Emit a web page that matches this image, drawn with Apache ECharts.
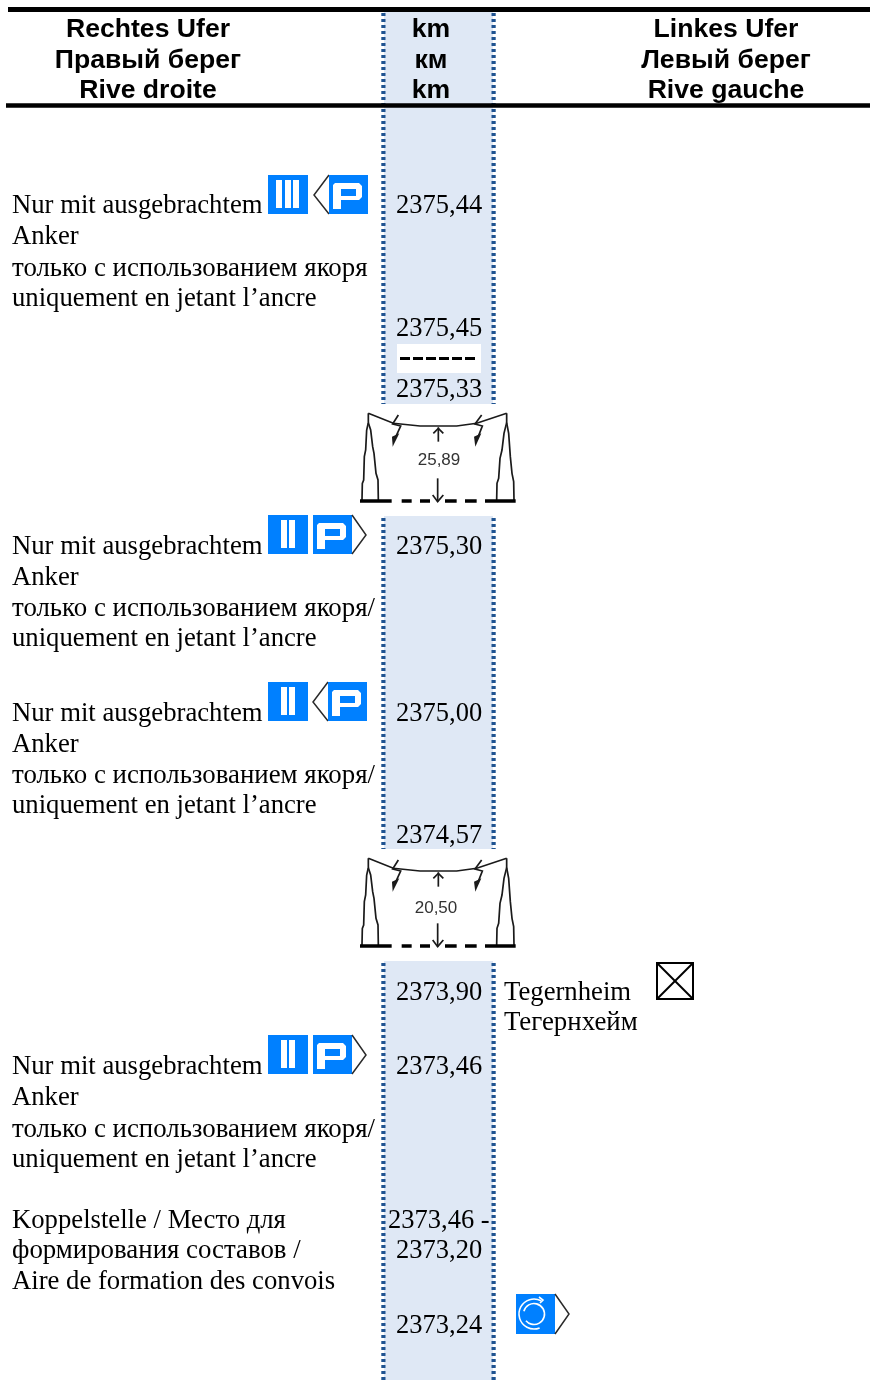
<!DOCTYPE html>
<html><head><meta charset="utf-8">
<style>html,body{margin:0;padding:0;background:#fff}#c{width:870px;height:1380px}</style>
<script src="https://cdn.jsdelivr.net/npm/echarts@6/dist/echarts.min.js"></script></head>
<body><div id="c"></div>
<script>
// ---- content
const headerLeft = ['Rechtes Ufer','Правый берег','Rive droite'];
const headerKm = ['km','км','km'];
const headerRight = ['Linkes Ufer','Левый берег','Rive gauche'];
const kmValues = ['2375,44','2375,45','2375,33','2375,30','2375,00','2374,57','2373,90','2373,46','2373,46 -','2373,20','2373,24'];
const anchorNoteA = ['Nur mit ausgebrachtem','Anker','только с использованием якоря','uniquement en jetant l’ancre'];
const anchorNoteB = ['Nur mit ausgebrachtem','Anker','только с использованием якоря/','uniquement en jetant l’ancre'];
const couplingNote = ['Koppelstelle / Место для','формирования составов /','Aire de formation des convois'];
const placeNames = ['Tegernheim','Тегернхейм'];
const clearances = ['25,89','20,50'];

// ---- layout (axis units = page pixels)
const kmRowY = [206,329,390,547,714,836,993,1067,1221,1251,1326];
const bandSpans = [[11,404],[516,849],[961,1380]];
const noteBlocks = [[anchorNoteA,[206,237,269,299]],[anchorNoteB,[547,578,609,639]],[anchorNoteB,[714,745,776,806]],[anchorNoteB,[1067,1098,1130,1160]],[couplingNote,[1221,1251,1282]]];
const signs = [['III',268,175],['Pl',314,175],['II',268,515],['Pr',313,515],['II',268,682],['Pl',313,682],['II',268,1035],['Pr',313,1035],['O',516,1294]];
const bridges = [[0,0],[1,445]];

const BLUE='#0080ff', DOT='#1f5391', BAND='#dfe8f5', INK='#1a1a1a';
const SERIF='"Liberation Serif","Times New Roman",serif', SANS='"Liberation Sans",Arial,sans-serif';
const texts = [];
const T=(x,y,text,align,font,size,weight,fill)=>texts.push({x,y,text,align,font,size,weight,fill});
const bodySize=s=>/^(только|формирования|Тегернхейм)/.test(s)?26.85:26.7;
[30,61,91].forEach((y,i)=>{
  T(148,y,headerLeft[i],'center',SANS,26.6,'bold','#000');
  T(431,y,headerKm[i],'center',SANS,26.6,'bold','#000');
  T(726,y,headerRight[i],'center',SANS,26.6,'bold','#000');
});
kmValues.forEach((v,i)=>T(i===8?388:396,kmRowY[i],v,'left',SERIF,26.5,'normal','#000'));
noteBlocks.forEach(([lines,ys])=>lines.forEach((s,i)=>T(12,ys[i],s,'left',SERIF,bodySize(s),'normal','#000')));
placeNames.forEach((s,i)=>T(504,[993,1023][i],s,'left',SERIF,bodySize(s),'normal','#000'));
bridges.forEach(([k,dy],i)=>T([439,436][i],[460,908][i],clearances[k],'center',SANS,17,'normal','#333'));

function poly(pts,o,api,dx,dy,closed){
  return {type:closed?'polygon':'polyline',shape:{points:pts.map(p=>api.coord([p[0]+dx,p[1]+dy]))},style:o,silent:true};
}
function rect(x,y,w,h,fill,api){
  const a=api.coord([x,y]);
  return {type:'rect',shape:{x:a[0],y:a[1],width:w,height:h},style:{fill},silent:true};
}
const line=(stroke,lineWidth)=>({fill:null,stroke,lineWidth});
function seg(x1,y1,x2,y2,style,api){
  const a=api.coord([x1,y1]),b=api.coord([x2,y2]);
  return {type:'line',shape:{x1:a[0],y1:a[1],x2:b[0],y2:b[1]},style,silent:true};
}
function pGlyph(x,y,api){
  return [
    poly([[4,10],[6,8],[30,8],[33,11],[33,22],[30,25],[12,25],[12,34],[4,34]],{fill:'#fff'},api,x,y,true),
    rect(x+12,y+14,15,7,BLUE,api)
  ];
}
function drawSign(kind,x,y,api){
  const c=[];
  const chev=line('#2a2a2a',1.5);
  if(kind==='III'||kind==='II'){
    c.push(rect(x,y,40,39,BLUE,api));
    (kind==='III'?[8,17,25]:[13,21]).forEach(b=>c.push(rect(x+b,y+5,6,28,'#fff',api)));
  } else if(kind==='Pl'){
    c.push(poly([[15,0],[0,20],[15,39]],chev,api,x,y));
    c.push(rect(x+15,y,39,39,BLUE,api));
    pGlyph(x+15,y,api).forEach(e=>c.push(e));
  } else if(kind==='Pr'){
    c.push(rect(x,y,39,39,BLUE,api));
    pGlyph(x,y,api).forEach(e=>c.push(e));
    c.push(poly([[39,0],[53,20],[39,39]],chev,api,x,y));
  } else {
    c.push(rect(x,y,39,40,BLUE,api));
    c.push(poly([[39,0],[53,20],[39,40]],chev,api,x,y));
    const o=api.coord([x+18,y+20]);
    const w=line('#fff',1.6), R=Math.PI/180;
    c.push({type:'arc',shape:{cx:o[0],cy:o[1],r:15,startAngle:-62*R,endAngle:68*R,clockwise:false},style:w,silent:true});
    c.push({type:'arc',shape:{cx:o[0],cy:o[1],r:10.5,startAngle:-165*R,endAngle:140*R,clockwise:true},style:w,silent:true});
    c.push(poly([[23,3],[27,6],[24,9]],w,api,x,y));
  }
  return c;
}
function drawBridge(k,dy,api){
  const D=(z)=>z.map(p=>[350+p[0]/3,400+p[1]/3]);
  const s=line(INK,1.7), thin=line(INK,1.6), c=[];
  const P=(z,st)=>c.push(poly(D(z),st||s,api,0,dy));
  P([[55,40],[55,68],[50,90],[47,150],[43,170],[41,240],[37,250],[36,300]]);
  P([[55,68],[62,90],[68,140],[72,160],[78,220],[84,240],[85,300]]);
  P([[470,40],[470,68],[476,100],[481,170],[486,220],[491,245],[492,300]]);
  P([[470,68],[462,100],[456,150],[450,175],[446,235],[441,250],[440,300]]);
  P([[55,40],[130,70],[210,78],[320,78],[380,70],[470,40]],thin);
  P([[145,45],[128,72],[152,78],[132,122]]);
  P([[395,45],[375,72],[397,78],[380,122]]);
  c.push(poly(D([[126,110],[148,100],[128,140]]),{fill:INK},api,0,dy,true));
  c.push(poly(D([[372,110],[394,100],[376,140]]),{fill:INK},api,0,dy,true));
  P([[265,82],[265,125]]);
  P([[250,100],[265,85],[280,100]]);
  P([[263,235],[263,305]]);
  P([[248,285],[263,305],[280,285]]);
  [[30,125],[155,185],[210,240],[285,320],[345,380],[405,497]].forEach(q=>P([[q[0],303],[q[1],303]],line('#000',3.5)));
  return c;
}

const axisOff={show:false};
const chart=echarts.init(document.getElementById('c'),null,{renderer:'canvas'});
const one=[[0,0]];
chart.setOption({
  animation:false,
  grid:{left:0,right:0,top:0,bottom:0,containLabel:false},
  xAxis:{type:'value',min:0,max:870,...axisOff},
  yAxis:{type:'value',min:0,max:1380,inverse:true,...axisOff},
  tooltip:{show:false},
  series:[
    {type:'custom',name:'km band',silent:true,clip:false,z:1,data:bandSpans,
     renderItem:(p,api)=>{
       const s=bandSpans[p.dataIndex];
       const a=api.coord([384,s[0]]),b=api.coord([493,s[1]]);
       const dash={stroke:DOT,lineWidth:4.2,lineDash:[3,3]};
       return {type:'group',silent:true,children:[
         {type:'rect',shape:{x:a[0],y:a[1],width:b[0]-a[0],height:b[1]-a[1]},style:{fill:BAND},silent:true},
         seg(383.4,s[0]+2,383.4,s[1],dash,api),
         seg(493.6,s[0]+2,493.6,s[1],dash,api)
       ]};
     }},
    {type:'custom',name:'rules',silent:true,clip:false,z:2,data:one,
     renderItem:(p,api)=>({type:'group',silent:true,children:[
       seg(8,9.5,870,9.5,{stroke:'#000',lineWidth:5},api),
       seg(6,105.5,870,105.5,{stroke:'#000',lineWidth:4.5},api),
       rect(397,344,84,29,'#fff',api),
       seg(400,358.5,478,358.5,{stroke:'#000',lineWidth:3,lineDash:[10,3]},api),
       {type:'rect',shape:{x:api.coord([657,0])[0],y:api.coord([0,963])[1],width:36,height:36},style:{fill:null,stroke:'#000',lineWidth:2},silent:true},
       seg(657,963,693,999,line('#000',2),api),
       seg(693,963,657,999,line('#000',2),api)
     ]})},
    {type:'custom',name:'signs',silent:true,clip:false,z:3,data:signs.map(s=>[s[1],s[2]]),
     renderItem:(p,api)=>{const s=signs[p.dataIndex];return {type:'group',silent:true,children:drawSign(s[0],s[1],s[2],api)};}},
    {type:'custom',name:'bridges',silent:true,clip:false,z:3,data:bridges,
     renderItem:(p,api)=>{const b=bridges[p.dataIndex];return {type:'group',silent:true,children:drawBridge(b[0],b[1],api)};}},
    {type:'custom',name:'text',silent:true,clip:false,z:4,data:texts.map(t=>[t.x,t.y]),
     renderItem:(p,api)=>{const t=texts[p.dataIndex];const a=api.coord([t.x,t.y]);
       return {type:'text',silent:true,x:a[0],y:a[1],style:{text:t.text,textAlign:t.align,textVerticalAlign:'middle',font:`${t.weight} ${t.size}px ${t.font}`,fill:t.fill}};}}
  ]
});
</script></body></html>
